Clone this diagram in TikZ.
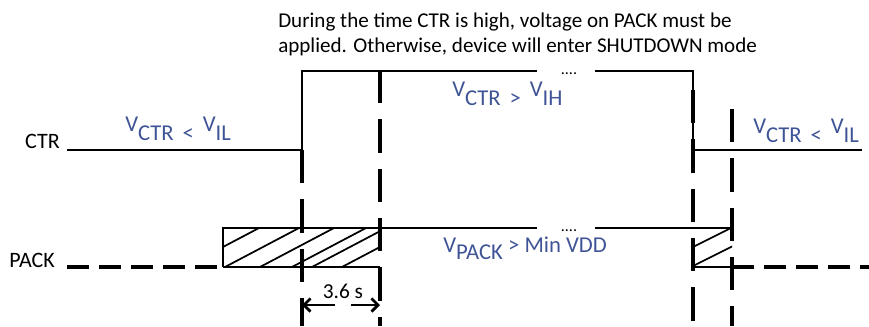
\documentclass[tikz,border=0pt]{standalone}
\usepackage{fontspec}
\setmainfont{Carlito}
\usetikzlibrary{arrows.meta}
\definecolor{vblue}{RGB}{63,84,150}
\newcommand{\lowr}[1]{\raisebox{-0.4em}{#1}}
\tikzset{
  sig/.style={line width=1.5pt},
  marker/.style={line width=2.3pt, dash pattern=on 25pt off 12pt},
  packdash/.style={line width=3pt, dash pattern=on 16.5pt off 7.5pt},
  hatch/.style={line width=1.3pt},
  lvl/.style={text=vblue, font=\fontsize{17}{20}\selectfont, inner sep=0pt, anchor=base west},
  signame/.style={font=\fontsize{16.5}{19}\selectfont, inner sep=0pt, anchor=base east},
  note/.style={font=\fontsize{15.8}{19}\selectfont, inner sep=0pt, anchor=base west},
  dots/.style={font=\fontsize{12}{12}\selectfont, inner sep=0pt, anchor=base},
}
\begin{document}
\begin{tikzpicture}[x=0.75pt, y=-0.75pt, line join=miter, >={Straight Barb[length=5pt,width=10pt]}]
\useasboundingbox (0,0) rectangle (869,326);

% note above the waveforms
\node[note] (note1) at (278,27.3) {During the time CTR is high, voltage on PACK must be};
\node[note] (note2) at (278,52.7) {applied. Otherwise, device will enter SHUTDOWN mode};

% CTR
\node[signame] (ctr) at (60,148.3) {CTR};
\coordinate (c0) at (67,150);
\coordinate (c1) at (302,150);
\coordinate (c2) at (302,71);
\coordinate (c3) at (537,71);
\coordinate (c4) at (595,71);
\coordinate (c5) at (693,71);
\coordinate (c6) at (693,150);
\coordinate (c7) at (862,150);
\draw[sig] (c0) -- (c1) -- (c2) -- (c3);
\node[dots] (ctrdots) at (569,74) {....};
\draw[sig] (c4) -- (c5) -- (c6) -- (c7);

% PACK
\node[signame] (pack) at (55,267) {PACK};
\coordinate (p0) at (67,267);
\coordinate (p1) at (223,267);
\coordinate (p2) at (223,228);
\coordinate (p3) at (537,228);
\coordinate (p4) at (595,228);
\coordinate (p5) at (732,228);
\coordinate (p6) at (693,267);
\coordinate (p7) at (732,267);
\coordinate (p8) at (869,267);
\draw[packdash] (p0) -- (p1);
\draw[sig] (p1) -- (p2) -- (p3);
\draw[sig] (p1) -- (380,267);
\node[dots] (packdots) at (569,231) {....};
\draw[sig] (p4) -- (p5);
\draw[sig] (p6) -- (p7);
\draw[packdash] (p7) -- (p8);

% hatching
\begin{scope}
  \clip (223,228) rectangle (380,267);
  \foreach \x in {185,225,260,292,312,342}
    \draw[hatch] (\x,267) -- ++(74,-39);
\end{scope}
\begin{scope}
  \clip (693,228) rectangle (732,267);
  \foreach \x in {653,691}
    \draw[hatch] (\x,267) -- ++(78,-39);
\end{scope}

% timing markers
\draw[marker] (302,150) -- (302,326);
\draw[marker] (380,70) -- (380,326);
\draw[marker] (693,90) -- (693,326);
\draw[marker] (732,109) -- (732,326);

% 3.6 s
\coordinate (t0) at (302,305);
\coordinate (t1) at (380,305);
\draw[<->, line width=2pt, dash pattern=on 22pt off 12pt] (t0) -- (t1);
\node[font=\fontsize{16}{19}\selectfont, inner sep=0pt, anchor=base] (tlbl) at (343,298) {3.6 s};

% levels
\node[lvl] (lowl) at (125,131.7) {V\lowr{CTR}\, \lowr{<}\, V\lowr{IL}};
\node[lvl] (high) at (452,96.7) {V\lowr{CTR}\, \lowr{>}\, V\lowr{IH}};
\node[lvl] (lowr) at (753,133.7) {V\lowr{CTR}\, \lowr{<}\, V\lowr{IL}};
\node[lvl] (packlvl) at (443,252.7) {V\raisebox{-0.3em}{PACK} > Min VDD};
\end{tikzpicture}
\end{document}
